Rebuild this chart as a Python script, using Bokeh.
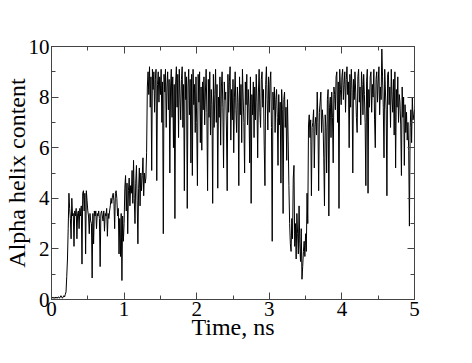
from bokeh.plotting import figure
from bokeh.models import Range1d, LinearAxis, SingleIntervalTicker, ColumnDataSource
from bokeh.embed import file_html
from bokeh.resources import INLINE

# sampling step of the trace (ns)
time_step = 0.01

# alpha helix content, 0.00 - 0.99 ns
helix_ns0 = [
    0.05, 0.05, 0.10, 0.05, 0.05, 0.10, 0.05, 0.10, 0.05, 0.10,
    0.10, 0.05, 0.10, 0.15, 0.10, 0.05, 0.10, 0.15, 0.10, 0.20,
    0.30, 0.90, 1.60, 2.80, 4.20, 3.60, 3.20, 2.40, 4.00, 3.30,
    3.40, 2.10, 3.50, 3.30, 3.60, 2.40, 3.40, 3.50, 2.80, 3.60,
    3.30, 3.70, 1.40, 4.20, 4.30, 3.50, 4.20, 1.80, 4.30, 3.90,
    3.50, 3.30, 2.60, 3.40, 3.10, 3.00, 0.85, 3.40, 2.20, 3.50,
    3.30, 3.50, 2.80, 3.40, 3.30, 3.50, 3.20, 1.30, 3.40, 3.50,
    3.30, 3.10, 3.50, 2.70, 3.40, 3.30, 3.60, 2.50, 3.40, 3.20,
    3.50, 3.70, 4.00, 3.80, 4.10, 4.20, 3.90, 2.80, 4.20, 4.30,
    4.00, 3.30, 3.60, 1.80, 3.20, 1.70, 3.40, 0.75, 3.30, 2.30,
]
# 1.00 - 1.99 ns
helix_ns1 = [
    3.00, 4.40, 4.90, 3.50, 4.60, 2.60, 4.30, 4.80, 3.70, 4.50,
    4.20, 5.10, 3.80, 5.50, 4.00, 3.00, 4.60, 5.30, 3.90, 2.20,
    4.40, 5.20, 3.70, 5.00, 4.30, 4.90, 5.60, 4.10, 5.00, 4.60,
    4.80, 5.80, 8.40, 9.00, 8.10, 9.20, 7.60, 8.80, 5.10, 9.10,
    8.30, 9.00, 7.40, 8.70, 9.10, 4.70, 8.50, 9.00, 7.80, 8.80,
    8.10, 9.10, 7.00, 8.60, 2.60, 8.90, 8.20, 9.10, 6.80, 8.40,
    9.00, 7.50, 8.70, 5.00, 8.40, 9.10, 7.20, 8.80, 6.00, 8.50,
    3.20, 8.60, 9.20, 7.60, 8.90, 6.40, 9.10, 8.00, 7.10, 8.70,
    9.20, 6.80, 8.50, 4.30, 9.00, 7.90, 8.80, 3.60, 8.40, 9.10,
    7.30, 8.70, 5.40, 8.90, 4.90, 9.10, 7.70, 8.50, 6.60, 8.80,
]
# 2.00 - 2.99 ns
helix_ns2 = [
    7.00, 4.50, 8.90, 7.80, 9.00, 6.20, 8.40, 5.90, 8.60, 7.50,
    8.80, 6.90, 8.20, 9.10, 7.40, 4.30, 8.70, 7.20, 9.00, 6.50,
    8.30, 7.70, 3.80, 8.90, 6.80, 8.10, 9.10, 7.00, 8.50, 4.40,
    8.00, 7.20, 8.80, 6.10, 8.40, 9.00, 7.60, 5.20, 8.60, 7.90,
    8.20, 6.70, 4.30, 8.90, 7.40, 8.60, 9.20, 6.30, 8.30, 7.10,
    8.70, 5.80, 8.00, 9.00, 7.50, 6.60, 8.40, 7.80, 4.50, 8.80,
    7.30, 8.50, 6.20, 9.10, 8.00, 7.00, 5.00, 8.60, 7.70, 8.90,
    6.90, 8.30, 7.60, 5.40, 8.80, 3.80, 8.10, 7.30, 8.60, 6.40,
    8.40, 7.10, 8.90, 7.80, 5.60, 8.20, 9.10, 7.40, 6.80, 8.70,
    9.00, 7.60, 8.30, 6.10, 4.50, 8.50, 9.20, 7.90, 6.70, 8.80,
]
# 3.00 - 3.99 ns
helix_ns3 = [
    7.40, 8.60, 9.00, 6.80, 2.30, 8.20, 7.50, 8.40, 6.60, 7.90,
    8.30, 7.20, 5.30, 8.10, 6.90, 7.80, 4.60, 8.30, 7.50, 3.40,
    7.90, 8.20, 6.80, 7.60, 5.50, 7.90, 6.30, 4.50, 3.00, 2.20,
    1.90, 3.20, 2.40, 4.80, 5.30, 2.10, 3.00, 1.60, 3.40, 2.60,
    1.80, 3.70, 2.20, 1.50, 2.80, 0.80, 1.30, 1.90, 2.30, 1.70,
    2.60, 1.90, 4.20, 3.00, 6.90, 7.30, 6.40, 7.10, 4.10, 6.80,
    7.00, 7.50, 5.20, 6.90, 7.20, 6.50, 8.20, 7.00, 4.30, 7.40,
    7.80, 8.20, 6.60, 7.50, 7.10, 5.60, 3.70, 7.30, 6.80, 5.00,
    7.90, 8.30, 3.30, 7.60, 8.00, 6.40, 8.20, 7.20, 5.40, 8.40,
    8.10, 7.50, 8.80, 9.00, 7.00, 8.60, 3.60, 9.10, 8.30, 7.70,
]
# 4.00 - 5.00 ns
helix_ns4 = [
    8.80, 9.10, 7.90, 8.50, 9.00, 7.40, 8.70, 9.20, 8.10, 8.60,
    6.00, 8.90, 7.60, 9.10, 8.30, 5.00, 8.70, 7.90, 9.00, 8.20,
    7.20, 6.60, 8.80, 9.10, 7.80, 8.40, 6.90, 9.00, 8.50, 7.30,
    8.90, 8.10, 7.00, 4.50, 8.60, 9.10, 4.20, 8.30, 7.60, 8.80,
    9.00, 7.40, 8.50, 8.00, 9.10, 7.10, 6.00, 8.70, 9.00, 7.80,
    8.60, 9.20, 7.30, 8.40, 7.90, 9.90, 8.80, 7.60, 5.60, 9.10,
    8.20, 7.50, 4.10, 8.90, 9.00, 7.70, 8.40, 6.80, 9.10, 8.00,
    7.40, 8.70, 6.50, 9.00, 5.20, 8.30, 7.60, 8.80, 7.00, 8.10,
    7.80, 6.90, 4.90, 8.40, 7.20, 8.00, 5.30, 7.70, 6.60, 7.40,
    6.30, 7.00, 5.90, 2.90, 6.80, 7.50, 6.20, 8.00, 7.10, 7.30,
    7.50,
]

x_ticks_interval = 1
y_ticks_interval = 2

helix = helix_ns0 + helix_ns1 + helix_ns2 + helix_ns3 + helix_ns4
time_ns = [round(i * time_step, 4) for i in range(len(helix))]
src = ColumnDataSource(data=dict(t=time_ns, h=helix))

FONT = "'Liberation Serif', serif"
FRAME = "#444444"

p = figure(
    frame_width=363, frame_height=253,
    x_range=Range1d(0, 5), y_range=Range1d(0, 10),
    output_backend="svg", toolbar_location=None,
    x_axis_type=None, y_axis_type=None,
    min_border_left=46, min_border_top=46, min_border_right=10, min_border_bottom=0,
    background_fill_color="white", border_fill_color="white",
)
p.outline_line_color = FRAME
p.outline_line_width = 1
p.xgrid.visible = False
p.ygrid.visible = False

xt = SingleIntervalTicker(interval=x_ticks_interval, num_minor_ticks=2)
yt = SingleIntervalTicker(interval=y_ticks_interval, num_minor_ticks=2)


def style(ax, labels=True):
    ax.axis_line_color = None
    ax.major_tick_line_color = FRAME
    ax.minor_tick_line_color = FRAME
    ax.major_tick_in = 7
    ax.major_tick_out = 0
    ax.minor_tick_in = 4
    ax.minor_tick_out = 0
    if labels:
        ax.major_label_text_font = FONT
        ax.major_label_text_font_size = "21px"
        ax.major_label_text_color = "black"
        ax.axis_label_text_font = FONT
        ax.axis_label_text_font_size = "24px"
        ax.axis_label_text_font_style = "normal"
        ax.axis_label_text_color = "black"
    else:
        ax.major_label_text_font_size = "0px"
        ax.major_label_standoff = 0
        ax.major_label_text_color = None


xb = LinearAxis(ticker=xt, axis_label="Time, ns")
style(xb)
xb.major_label_standoff = 2
xb.axis_label_standoff = -5
p.add_layout(xb, "below")

yl = LinearAxis(ticker=yt, axis_label="Alpha helix content")
style(yl)
yl.major_label_standoff = 2
yl.axis_label_standoff = -4
p.add_layout(yl, "left")

xa = LinearAxis(ticker=xt)
style(xa, labels=False)
p.add_layout(xa, "above")

yr = LinearAxis(ticker=yt)
style(yr, labels=False)
p.add_layout(yr, "right")

p.line("t", "h", source=src, line_color="black", line_width=1)

open("out.html", "w").write(file_html(p, INLINE))
